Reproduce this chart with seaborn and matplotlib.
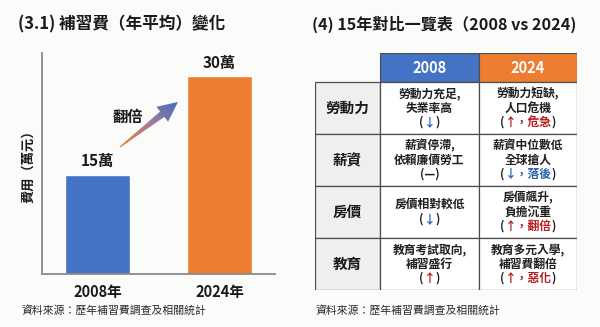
import numpy as np
import pandas as pd
import matplotlib
matplotlib.use("Agg")
import matplotlib.pyplot as plt
import seaborn as sns
from matplotlib.patches import Rectangle, Polygon
from matplotlib.colors import LinearSegmentedColormap

# ---- data -------------------------------------------------------------
years = ["2008年", "2024年"]
cost_wan = [15, 30]
cost_labels = ["15萬", "30萬"]
bar_colors = ["#4472C4", "#ED7D31"]

header_labels = ["", "2008", "2024"]
header_colors = ["none", "#4472C4", "#ED7D31"]
row_labels = ["勞動力", "薪資", "房價", "教育"]

# each cell: list of lines, each line: list of (text, tone) segments
cells_2008 = [
    [[("勞動力充足,", "k")], [("失業率高", "k")], [("(", "k"), ("↓", "b"), (")", "k")]],
    [[("薪資停滯,", "k")], [("依賴廉價勞工", "k")], [("(—)", "k")]],
    [[("房價相對較低", "k")], [("(", "k"), ("↓", "b"), (")", "k")]],
    [[("教育考試取向,", "k")], [("補習盛行", "k")], [("(", "k"), ("↑", "r"), (")", "k")]],
]
cells_2024 = [
    [[("勞動力短缺,", "k")], [("人口危機", "k")], [("(", "k"), ("↑，危急", "r"), (")", "k")]],
    [[("薪資中位數低", "k")], [("全球搶人", "k")], [("(", "k"), ("↓，落後", "b"), (")", "k")]],
    [[("房價飆升,", "k")], [("負擔沉重", "k")], [("(", "k"), ("↑，翻倍", "r"), (")", "k")]],
    [[("教育多元入學,", "k")], [("補習費翻倍", "k")], [("(", "k"), ("↑，惡化", "r"), (")", "k")]],
]
tones = {"k": "#1f1f1f", "b": "#2E62B0", "r": "#B81E1E"}

source_note = "資料來源：歷年補習費調查及相關統計"

# ---- style ------------------------------------------------------------
sns.set_theme(style="white")
plt.rcParams["font.family"] = ["Noto Sans CJK TC", "DejaVu Sans"]
BG = "#FBFBFA"
INK = "#1a1a1a"

W, H = 600, 327
fig = plt.figure(figsize=(W / 100, H / 100), dpi=100, facecolor=BG)


def px_rect(x0, y0, x1, y1):
    return [x0 / W, 1 - y1 / H, (x1 - x0) / W, (y1 - y0) / H]


# ---- left panel: bar chart -------------------------------------------
ax = fig.add_axes(px_rect(42, 53, 275, 274))
ax.set_facecolor("none")
df = pd.DataFrame({"year": years, "cost": cost_wan})
sns.barplot(data=df, x="year", y="cost", hue="year", palette=bar_colors,
            saturation=1, width=0.533, legend=False, ax=ax)
for cont, lab in zip(ax.containers, cost_labels):
    ax.bar_label(cont, labels=[lab], padding=4, fontsize=11, fontweight="bold",
                 color=INK)
ax.set_xlim(-0.455, 1.455)
ax.set_ylim(0, 33.5)
ax.set_yticks([])
ax.set_xlabel("")
ax.set_ylabel("費用（萬元）", fontsize=9.5, fontweight="bold", color=INK, labelpad=5)
ax.tick_params(axis="x", length=0, pad=7, labelsize=10.5, labelcolor=INK)
for t in ax.get_xticklabels():
    t.set_fontweight("bold")
for s in ["top", "right"]:
    ax.spines[s].set_visible(False)
for s in ["left", "bottom"]:
    ax.spines[s].set_color("#8a8a8a")
    ax.spines[s].set_linewidth(1.3)

fig.text(18 / W, 1 - 24 / H, "(3.1) 補習費（年平均）變化", fontsize=12,
         fontweight="bold", color=INK, va="center", ha="left")
fig.text(22 / W, 1 - 310 / H, source_note, fontsize=7.8, color="#2a2a2a",
         va="center", ha="left")

# ---- gradient arrow with "翻倍" -----------------------------------------
ov = fig.add_axes([0, 0, 1, 1], zorder=5)
ov.set_xlim(0, W)
ov.set_ylim(H, 0)
ov.axis("off")
ov.patch.set_alpha(0)

tail = np.array([120.0, 147.0])
tip = np.array([178.0, 102.0])
u = (tip - tail) / np.linalg.norm(tip - tail)
n = np.array([-u[1], u[0]])
L = np.linalg.norm(tip - tail)
head_len, head_half = 20.0, 9.5
w0, w1 = 0.6, 3.4
base = tail + u * (L - head_len)
pts = [tail + n * w0, base + n * w1, base + n * head_half, tip,
       base - n * head_half, base - n * w1, tail - n * w0]
arrow = Polygon(pts, closed=True, facecolor="none", edgecolor="none")
ov.add_patch(arrow)
xs = np.linspace(110, 185, 150)
ys = np.linspace(95, 155, 120)
X, Y = np.meshgrid(xs, ys)
Z = ((X - tail[0]) * u[0] + (Y - tail[1]) * u[1]) / L
cmap = LinearSegmentedColormap.from_list("grad", ["#E8823A", "#A97C96", "#4C6FBA"])
im = ov.imshow(Z, extent=(110, 185, 155, 95), origin="upper", cmap=cmap,
               vmin=0.05, vmax=0.95, aspect="auto", interpolation="bilinear")
im.set_clip_path(arrow)
ov.text(128, 117, "翻倍", fontsize=11, fontweight="bold", color=INK,
        ha="center", va="center")

# ---- right panel: comparison table -----------------------------------
fig.text(312 / W, 1 - 24 / H, "(4) 15年對比一覽表（2008 vs 2024)", fontsize=11.6,
         fontweight="bold", color=INK, va="center", ha="left")
fig.text(315 / W, 1 - 310 / H, source_note, fontsize=7.8, color="#2a2a2a",
         va="center", ha="left")

col_widths = [65, 99, 98]
row_heights = [29] + [52] * len(row_labels)
tw, th = sum(col_widths), sum(row_heights)
tax = fig.add_axes(px_rect(315, 53, 315 + tw, 53 + th))
tax.set_xlim(0, tw)
tax.set_ylim(th, 0)
tax.axis("off")
tax.patch.set_alpha(0)

col_x = np.concatenate([[0], np.cumsum(col_widths)])
row_y = np.concatenate([[0], np.cumsum(row_heights)])
EDGE = "#4d4d4d"

renderer = fig.canvas.get_renderer()


def rich_line(axis, cx, cy, segments, size, weight):
    parts = []
    for txt, tone in segments:
        t = axis.text(0, cy, txt, fontsize=size, fontweight=weight,
                      color=tones[tone], ha="left", va="center")
        parts.append(t)
    widths = [p.get_window_extent(renderer).width for p in parts]
    x = cx - sum(widths) / 2
    for p, w in zip(parts, widths):
        p.set_x(x)
        x += w


# header row
for j, (lab, col) in enumerate(zip(header_labels, header_colors)):
    if j == 0:
        continue
    tax.add_patch(Rectangle((col_x[j], row_y[0]), col_widths[j], row_heights[0],
                            facecolor=col, edgecolor=EDGE, linewidth=0.8))
    tax.text((col_x[j] + col_x[j + 1]) / 2, row_heights[0] / 2 + 0.5, lab,
             fontsize=10.5, fontweight="bold", color="white",
             ha="center", va="center")

line_gap = 14.5
for i, lab in enumerate(row_labels):
    y0, y1 = row_y[i + 1], row_y[i + 2]
    cy = (y0 + y1) / 2
    tax.add_patch(Rectangle((col_x[0], y0), col_widths[0], y1 - y0,
                            facecolor="#EFEFEF", edgecolor=EDGE, linewidth=0.9))
    tax.text(col_x[0] + col_widths[0] / 2, cy, lab, fontsize=10.5,
             fontweight="bold", color=INK, ha="center", va="center")
    for j, cells in ((1, cells_2008), (2, cells_2024)):
        tax.add_patch(Rectangle((col_x[j], y0), col_widths[j], y1 - y0,
                                facecolor="white", edgecolor=EDGE, linewidth=0.9))
        lines = cells[i]
        cx = (col_x[j] + col_x[j + 1]) / 2
        start = cy - line_gap * (len(lines) - 1) / 2
        for k, segs in enumerate(lines):
            rich_line(tax, cx, start + k * line_gap, segs, 8.5, "bold")

fig.savefig("out.png", dpi=100, facecolor=BG)
